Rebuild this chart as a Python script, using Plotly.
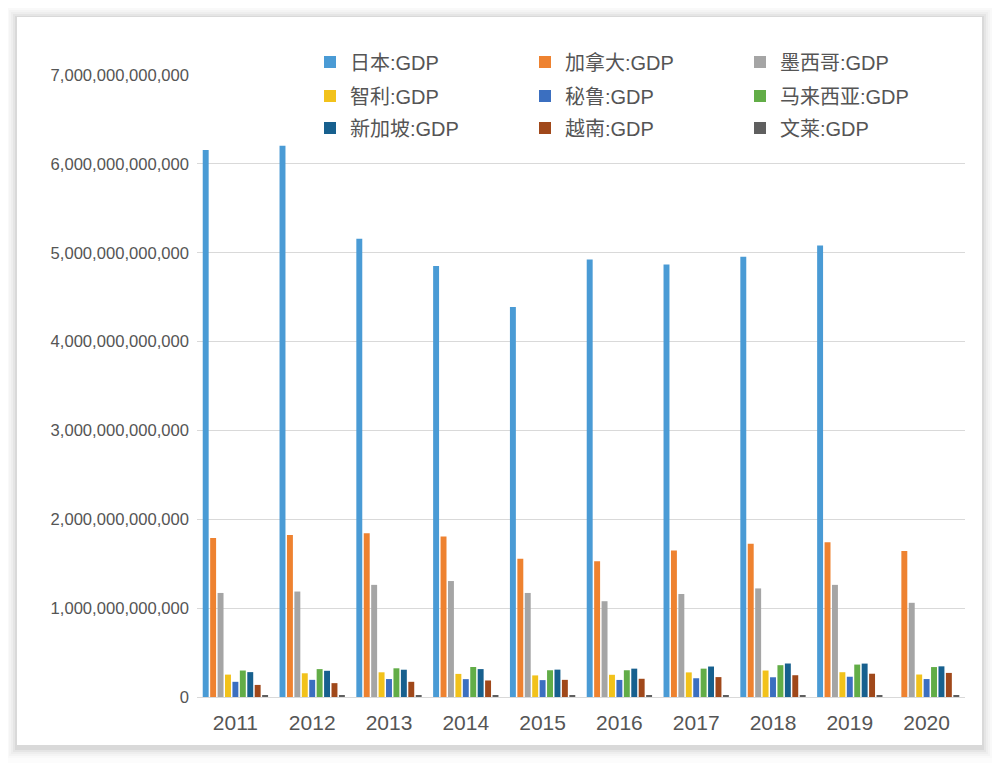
import plotly.graph_objects as go

years = ["2011", "2012", "2013", "2014", "2015", "2016", "2017", "2018", "2019", "2020"]

japan = [6.157e12, 6.203e12, 5.156e12, 4.850e12, 4.389e12, 4.923e12, 4.867e12, 4.955e12, 5.082e12, None]
canada = [1.789e12, 1.824e12, 1.843e12, 1.806e12, 1.556e12, 1.528e12, 1.650e12, 1.725e12, 1.742e12, 1.643e12]
mexico = [1.171e12, 1.187e12, 1.262e12, 1.305e12, 1.171e12, 1.078e12, 1.159e12, 1.222e12, 1.262e12, 1.060e12]
chile = [0.252e12, 0.267e12, 0.278e12, 0.260e12, 0.243e12, 0.250e12, 0.277e12, 0.298e12, 0.279e12, 0.253e12]
peru = [0.171e12, 0.193e12, 0.202e12, 0.201e12, 0.190e12, 0.192e12, 0.211e12, 0.222e12, 0.228e12, 0.202e12]
malaysia = [0.298e12, 0.314e12, 0.323e12, 0.338e12, 0.301e12, 0.301e12, 0.319e12, 0.358e12, 0.365e12, 0.337e12]
singapore = [0.280e12, 0.295e12, 0.307e12, 0.314e12, 0.308e12, 0.319e12, 0.343e12, 0.377e12, 0.376e12, 0.345e12]
vietnam = [0.136e12, 0.156e12, 0.171e12, 0.186e12, 0.193e12, 0.205e12, 0.224e12, 0.245e12, 0.262e12, 0.271e12]
brunei = [0.0187e12, 0.0190e12, 0.0181e12, 0.0171e12, 0.0129e12, 0.0114e12, 0.0121e12, 0.0136e12, 0.0135e12, 0.0120e12]

names = ["日本:GDP", "加拿大:GDP", "墨西哥:GDP", "智利:GDP", "秘鲁:GDP",
         "马来西亚:GDP", "新加坡:GDP", "越南:GDP", "文莱:GDP"]
series = [japan, canada, mexico, chile, peru, malaysia, singapore, vietnam, brunei]
colors = ["#4A9BD5", "#EE8230", "#A5A5A5", "#F2C21B", "#3B6FC0",
          "#62AD47", "#17608E", "#A0481A", "#5F5F5F"]
legend_ids = ["legend", "legend", "legend", "legend2", "legend2", "legend2",
              "legend3", "legend3", "legend3"]

ytick_vals = [0, 1e12, 2e12, 3e12, 4e12, 5e12, 6e12, 7e12]
ytick_text = ["0", "1,000,000,000,000", "2,000,000,000,000", "3,000,000,000,000",
              "4,000,000,000,000", "5,000,000,000,000", "6,000,000,000,000",
              "7,000,000,000,000"]

# page body has an 8px margin; work in page pixels and shift
OFF = 8
W, H = 1000 - OFF, 763 - OFF
PL, PR, PT, PB = 197, 965, 75, 697          # plot area in page pixels
ML, MT = PL - OFF, PT - OFF
MR, MB = W - (PR - OFF), H - (PB - OFF)
PW, PH = PR - PL, PB - PT


def px_x(x):
    return (x - PL) / PW


def px_y(y):
    return (PB - y) / PH


fig = go.Figure()
for name, vals, col, lg in zip(names, series, colors, legend_ids):
    fig.add_trace(go.Bar(x=years, y=vals, name=name, marker_color=col,
                         marker_line_width=0, legend=lg))

shapes = []
# card shadow
for i, a in enumerate([0.012, 0.018, 0.025, 0.035, 0.05]):
    d = 10 - 2 * i
    shapes.append(dict(type="rect", xref="paper", yref="paper", layer="below",
                       x0=px_x(17 - d), x1=px_x(982 + d),
                       y0=px_y(745 + d + 3), y1=px_y(17 - d + 1),
                       fillcolor=f"rgba(0,0,0,{a})", line_width=0))
shapes.append(dict(type="rect", xref="paper", yref="paper", layer="below",
                   x0=px_x(17), x1=px_x(982), y0=px_y(745), y1=px_y(17),
                   fillcolor="white", line_width=0))

font_lat = "Liberation Sans, Arial, Noto Sans CJK SC, sans-serif"
legend_common = dict(orientation="h", xanchor="left", yanchor="middle",
                     x=px_x(310), bgcolor="rgba(0,0,0,0)", borderwidth=0,
                     font=dict(family=font_lat, size=20, color="#555555"),
                     entrywidth=170, entrywidthmode="pixels",
                     itemclick=False)

fig.update_layout(
    width=W, height=H,
    margin=dict(l=ML, r=MR, t=MT, b=MB, pad=0),
    paper_bgcolor="#fcfcfc",
    plot_bgcolor="rgba(0,0,0,0)",
    barmode="group", bargap=0.13, bargroupgap=0.2,
    shapes=shapes,
    showlegend=True,
    legend=dict(legend_common, y=px_y(62)),
    legend2=dict(legend_common, y=px_y(96)),
    legend3=dict(legend_common, y=px_y(128)),
    font=dict(family=font_lat, color="#555555"),
    xaxis=dict(type="category", showgrid=False, showline=False, zeroline=False,
               ticks="", ticklabelstandoff=11,
               tickfont=dict(size=21, color="#555555", family=font_lat),
               range=[-0.5, 9.5]),
    yaxis=dict(range=[0, 7e12], tickvals=ytick_vals, ticktext=ytick_text,
               showgrid=True, gridcolor="#d9d9d9", gridwidth=1,
               zeroline=True, zerolinecolor="#d9d9d9", zerolinewidth=1,
               showline=False, ticks="", ticklabelstandoff=7,
               tickfont=dict(size=16.6, color="#555555", family=font_lat)),
)

fig.write_html("out.html")
